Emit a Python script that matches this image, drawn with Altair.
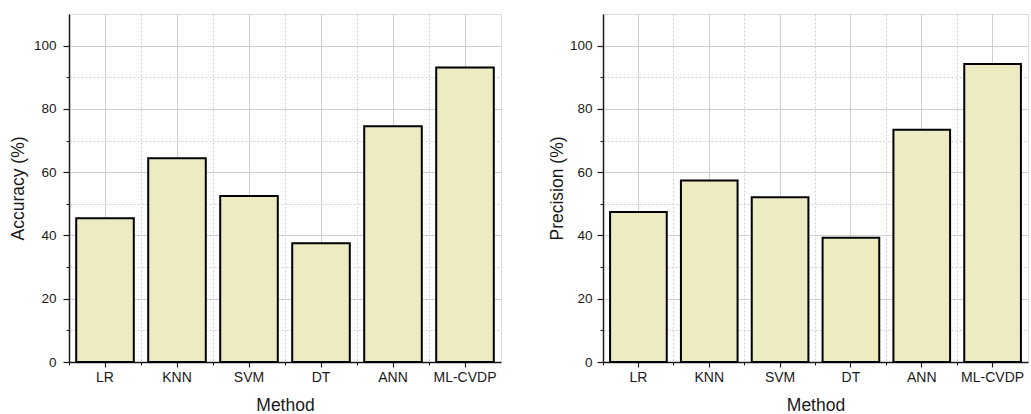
import altair as alt
import pandas as pd

methods = ["LR", "KNN", "SVM", "DT", "ANN", "ML-CVDP"]
accuracy = [45.4, 64.4, 52.5, 37.5, 74.5, 93.1]
precision = [47.4, 57.4, 52.1, 39.3, 73.4, 94.2]

major_y = [0, 20, 40, 60, 80, 100]
minor_y = [10, 30, 50, 70, 90]

FONT = "Liberation Sans"
TEXT = "#1a1a1a"
GRID = "#cfcfcf"
FILL = "#ecebc2"


def panel(values, ytitle, width, label_pad, title_pad):
    df = pd.DataFrame({"Method": methods, "value": values})
    base = alt.Chart(df)
    xscale = alt.Scale(domain=methods, paddingInner=0, paddingOuter=0)
    yscale = alt.Scale(domain=[0, 110], nice=False, zero=True)

    minor = base.mark_bar(opacity=0).encode(
        x=alt.X("Method:N", sort=methods, scale=xscale,
                axis=alt.Axis(orient="bottom", bandPosition=0, labels=False, title=None,
                              domain=False, tickSize=3, tickColor=TEXT, tickWidth=1,
                              grid=True, gridColor=GRID, gridDash=[2, 2], gridWidth=1)),
        y=alt.Y("value:Q", scale=yscale,
                axis=alt.Axis(orient="left", values=minor_y, labels=False, title=None,
                              domain=False, tickSize=3, tickColor=TEXT, tickWidth=1,
                              grid=True, gridColor=GRID, gridDash=[2, 2], gridWidth=1)),
    )

    bars = base.mark_bar(width=alt.RelativeBandSize(0.8), fill=FILL, stroke="black",
                         strokeWidth=2).encode(
        x=alt.X("Method:N", sort=methods, scale=xscale,
                axis=alt.Axis(orient="bottom", title="Method", labelAngle=0, bandPosition=0.5,
                              grid=True, gridColor=GRID, gridWidth=1,
                              domainColor=TEXT, domainWidth=1.5, tickColor=TEXT, tickWidth=1.2,
                              tickSize=5, labelPadding=3, titlePadding=12,
                              labelFont=FONT, labelFontSize=14, labelColor=TEXT,
                              titleFont=FONT, titleFontSize=17.5, titleFontWeight="normal",
                              titleColor=TEXT)),
        y=alt.Y("value:Q", scale=yscale,
                axis=alt.Axis(orient="left", title=ytitle, values=major_y,
                              grid=True, gridColor=GRID, gridWidth=1,
                              domainColor=TEXT, domainWidth=1.5, tickColor=TEXT, tickWidth=1.2,
                              tickSize=6, labelPadding=label_pad, titlePadding=title_pad,
                              labelFont=FONT, labelFontSize=13.5, labelColor=TEXT,
                              titleFont=FONT, titleFontSize=17.5, titleFontWeight="normal",
                              titleColor=TEXT)),
    )

    return alt.layer(minor, bars).resolve_axis(x="independent", y="independent").properties(
        width=width, height=348)


left = panel(accuracy, "Accuracy (%)", 432, 7, 6)
right = panel(precision, "Precision (%)", 425, 5, 3)

chart = alt.hconcat(left, right, spacing=45).properties(
    padding={"left": 8, "top": 13, "right": 0, "bottom": 0}
).configure_view(stroke=None).configure(background="white")

chart.save("out.html", embed_options={"renderer": "svg", "actions": False})
